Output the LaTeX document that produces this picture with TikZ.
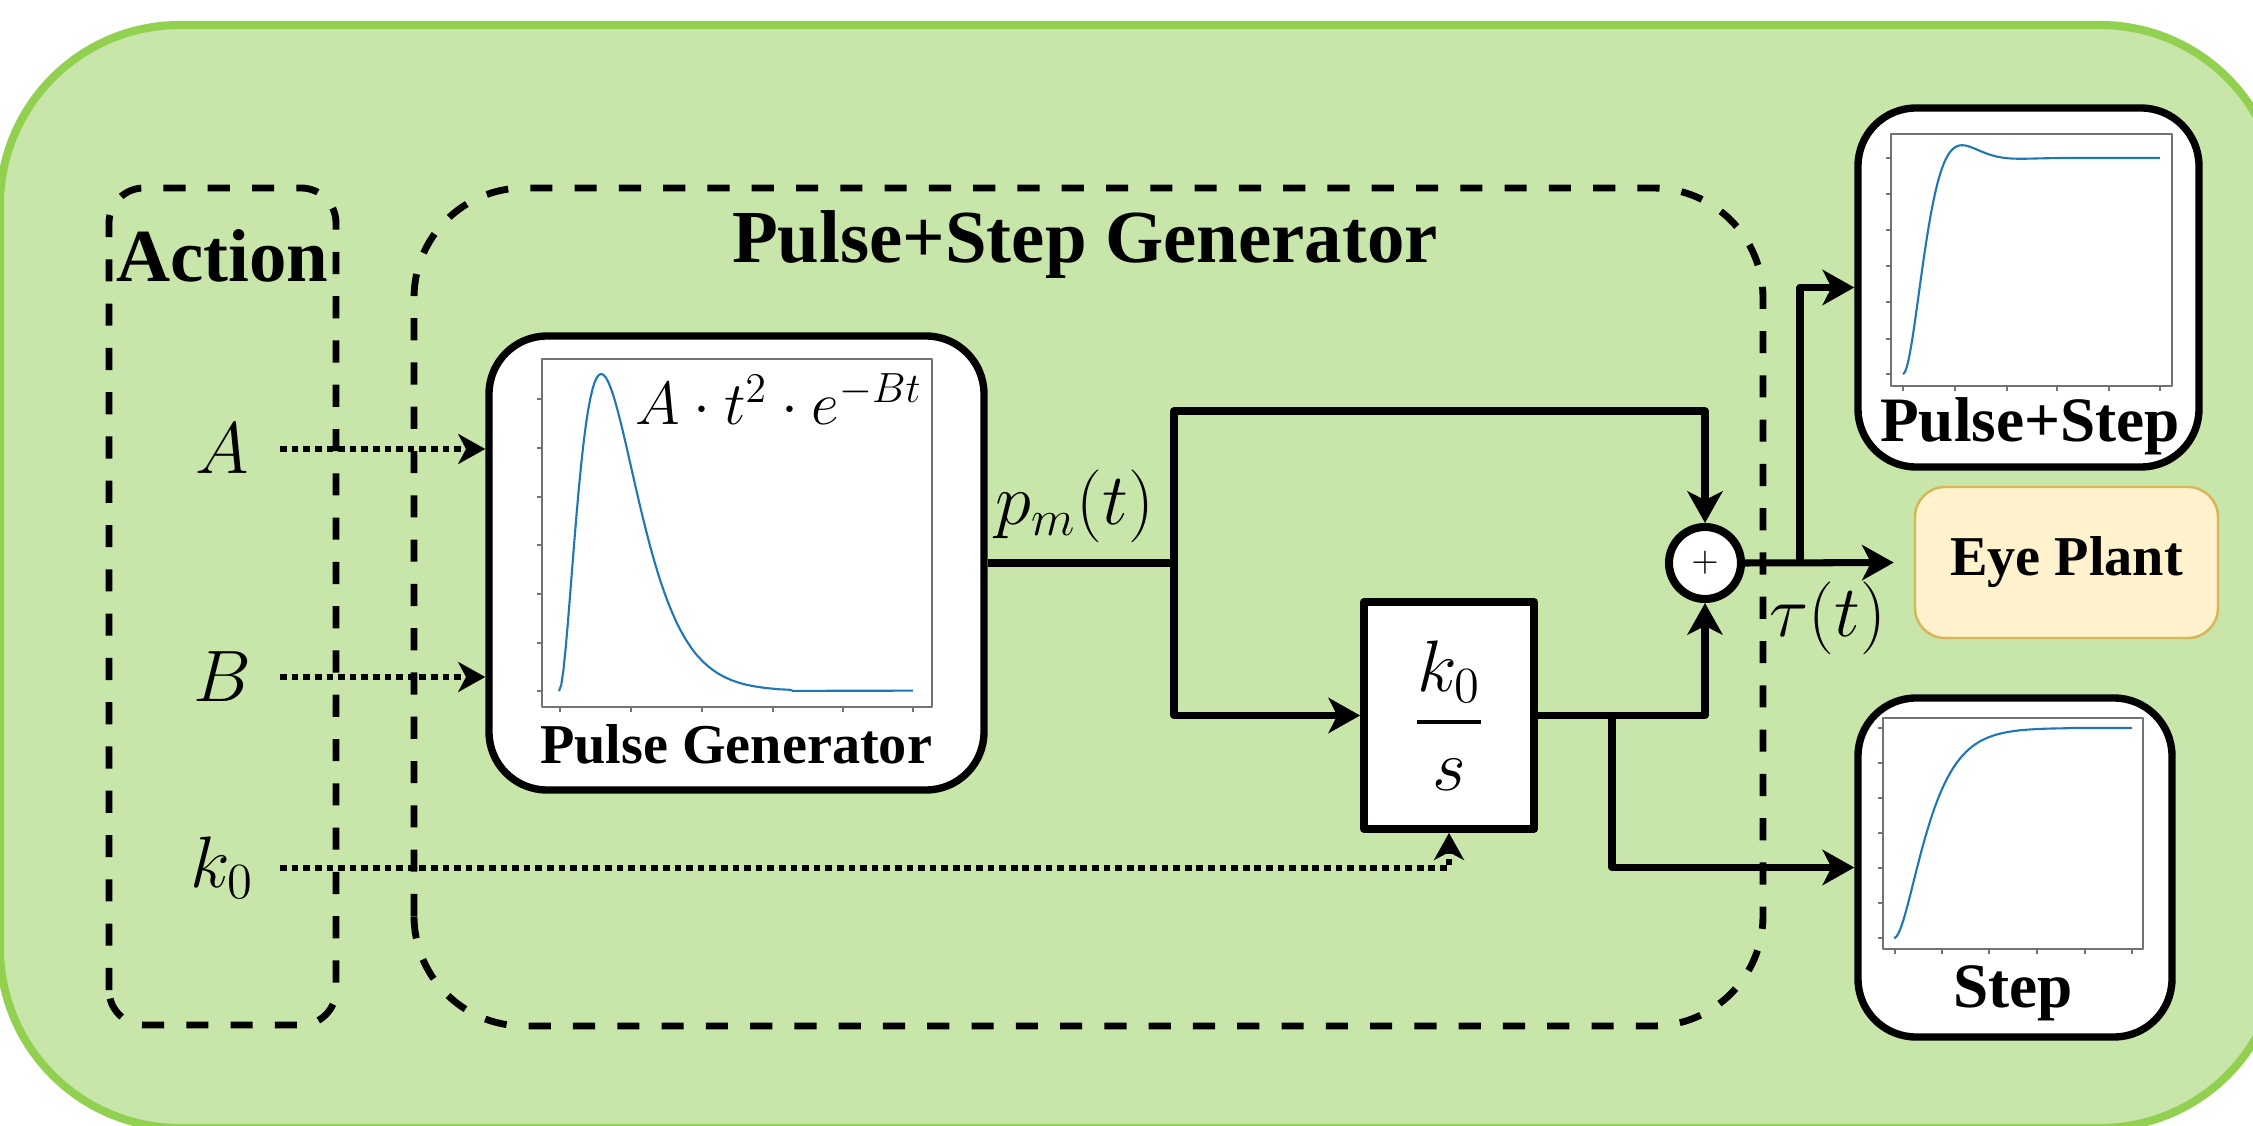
\documentclass[tikz,border=0pt]{standalone}
\usepackage{fontspec}
\setmainfont{Liberation Serif}
\usetikzlibrary{arrows.meta,calc}
\definecolor{framegreen}{HTML}{92D050}
\definecolor{panelgreen}{HTML}{C8E6A9}
\definecolor{plantfill}{HTML}{FFF2CC}
\definecolor{plantdraw}{HTML}{D6B656}
\definecolor{mplblue}{HTML}{1F77B4}
\begin{document}
\begin{tikzpicture}[>={Stealth[length=9pt,width=10pt,inset=2.5pt]},line join=round,
	wire/.style={line width=2pt},
	dotarrow/.style={line width=1.9pt,dash pattern=on 1.9pt off 1.4pt,-{Stealth[length=7.7pt,width=8.5pt,inset=2.2pt]}},
	groupbox/.style={draw,line width=1.95pt,dash pattern=on 6.3pt off 6.3pt},
	card/.style={draw,fill=white,line width=2.1pt,rounded corners=5.8mm},
	frameline/.style={draw=black!55,line width=0.4pt},
	curveline/.style={draw=mplblue,line width=0.6pt},
	headtext/.style={font=\fontsize{21.3}{25}\selectfont\bfseries,inner sep=0pt},
	boxtext/.style={inner sep=0pt,anchor=base},
	inlabel/.style={minimum width=1.15cm,inner sep=0pt,font=\fontsize{19.5}{23}\selectfont}]
	\fill[white] (0,0) rectangle (22.53,11.25);
	\useasboundingbox (0,0) rectangle (22.53,11.25);
	\draw[line width=2.3pt,draw=framegreen,fill=panelgreen,rounded corners=18mm] (0,11) rectangle (22.8,-0.03);
	% dashed groups
	\draw[groupbox,rounded corners=3.5mm] (1.09,1.00) rectangle (3.36,9.37);
	\draw[groupbox,rounded corners=11mm] (4.14,0.99) rectangle (17.63,9.37);
	\node[headtext,anchor=base] (actiontitle) at (2.225,8.43) {Action};
	\node[headtext,anchor=base] (gentitle) at (10.85,8.62) {Pulse+Step Generator};
	% blocks
	\node[card,minimum width=4.95cm,minimum height=4.54cm] (pulsegen) at (7.365,5.62) {};
	\node[card,minimum width=3.41cm,minimum height=3.59cm] (pulsestep) at (20.285,8.375) {};
	\node[card,minimum width=3.14cm,minimum height=3.39cm] (step) at (20.15,2.575) {};
	\node[draw,fill=white,line width=2.2pt,minimum width=1.70cm,minimum height=2.27cm,font=\fontsize{20}{24}\selectfont] (integ) at (14.49,4.095) {$\displaystyle{k_0\above1.1pt s}$};
	\node[circle,draw,fill=white,line width=2.3pt,minimum size=0.72cm,inner sep=0pt,font=\fontsize{10}{12}\selectfont] (sum) at (17.05,5.62) {$+$};
	\node[draw=plantdraw,fill=plantfill,line width=0.7pt,rounded corners=3mm,minimum width=3.03cm,minimum height=1.51cm,font=\fontsize{16}{19}\selectfont\bfseries] (eye) at (20.665,5.625) {Eye Plant};
	% pulse plot
	\draw[frameline] (5.42,4.18) rectangle (9.32,7.66);
	\foreach \t in {7.26,6.77,6.28,5.80,5.31,4.82,4.34} \draw[frameline] (5.42,\t) -- ++(-0.05,0);
	\foreach \t in {5.60,6.31,7.02,7.73,8.43,9.13} \draw[frameline] (\t,4.18) -- ++(0,-0.05);
	\draw[curveline] plot[domain=0:1,samples=160] ({5.59+3.54*\x},{4.34+3.17*(8.4*\x)^2*exp(2-16.8*\x)});
	\node[boxtext,anchor=base east,font=\fontsize{16.5}{20}\selectfont] (pulseeq) at (9.23,7.0) {$A\cdot t^2\cdot e^{-Bt}$};
	\node[boxtext,font=\fontsize{16}{19}\selectfont\bfseries] (pulselabel) at (7.36,3.62) {Pulse Generator};
	% pulse+step plot
	\draw[frameline] (18.91,7.39) rectangle (21.72,9.91);
	\foreach \t in {9.67,9.31,8.95,8.59,8.23,7.86,7.51} \draw[frameline] (18.91,\t) -- ++(-0.05,0);
	\foreach \t in {19.03,19.55,20.07,20.57,21.09,21.60} \draw[frameline] (\t,7.39) -- ++(0,-0.05);
	\draw[curveline] plot[domain=0:1,samples=160] ({19.03+2.57*\x},{7.51+2.16*(1-exp(-12.3*\x)*(cos(deg(13.66*\x))+0.9*sin(deg(13.66*\x))))});
	\node[boxtext,font=\fontsize{18}{21}\selectfont\bfseries] (pulsesteplabel) at (20.30,6.83) {Pulse+Step};
	% step plot
	\draw[frameline] (18.83,1.76) rectangle (21.43,4.07);
	\foreach \t in {3.97,3.62,3.27,2.92,2.57,2.22,1.87} \draw[frameline] (18.83,\t) -- ++(-0.05,0);
	\foreach \t in {18.95,19.42,19.89,20.37,20.85,21.32} \draw[frameline] (\t,1.76) -- ++(0,-0.05);
	\draw[curveline] plot[domain=0:1,samples=160] ({18.94+2.38*\x},{1.87+2.10*(1-(1+12.3*\x)*exp(-12.3*\x))});
	\node[boxtext,font=\fontsize{18}{21}\selectfont\bfseries] (steplabel) at (20.13,1.17) {Step};
	% inputs
	\node[inlabel] (A) at (2.22,6.76) {$A$};
	\node[inlabel] (B) at (2.22,4.48) {$B$};
	\node[inlabel] (k0) at (2.22,2.57) {$k_0$};
	\draw[dotarrow] (A) -- (A -| pulsegen.west);
	\draw[dotarrow] (B) -- (B -| pulsegen.west);
	\draw[dotarrow] (k0) -| (integ.south);
	% signal flow
	\coordinate (split) at (11.74,5.62);
	\coordinate (upper) at (11.74,7.14);
	\coordinate (tap) at (16.12,4.095);
	\coordinate (fork) at (18.00,5.62);
	\draw[wire,->] (pulsegen.east) -- (split) -- (upper) -| (sum.north);
	\draw[wire,->] (split) |- (integ.west);
	\draw[wire,->] (integ.east) -| (sum.south);
	\draw[wire,->] (tap) |- (step.west);
	\draw[wire,->,shorten >=2mm] (sum.east) -- (eye.west);
	\draw[wire,->] (fork) |- (pulsestep.west);
	\node[boxtext,font=\fontsize{19.5}{23}\selectfont] (pmlabel) at (10.75,6.0) {$p_m(t)$};
	\node[boxtext,font=\fontsize{19.5}{23}\selectfont] (taulabel) at (18.28,4.88) {$\tau(t)$};
\end{tikzpicture}
\end{document}
